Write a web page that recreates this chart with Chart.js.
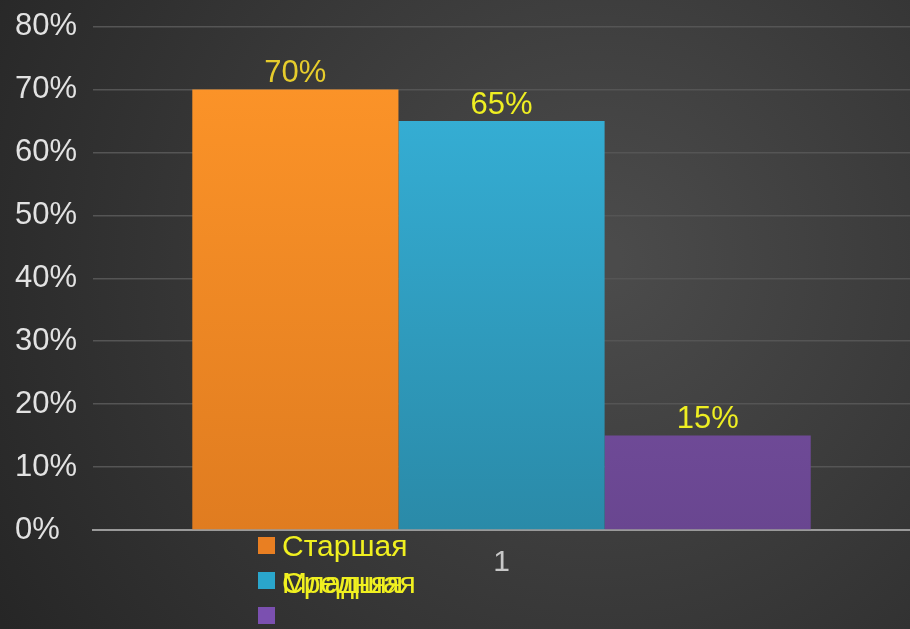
<!DOCTYPE html>
<html>
<head>
<meta charset="utf-8">
<script src="https://cdn.jsdelivr.net/npm/chart.js@4"></script>
<style>
  html, body { margin: 0; padding: 0; background: #2e2e2e; }
  canvas { display: block; }
</style>
</head>
<body>
<canvas id="myChart" width="910" height="629"></canvas>
<script>
const categories = ['1'];
const seriesNames = ['Старшая', 'Средняя', 'Младшая'];
const seriesValues = [[70], [65], [15]];
const yTickValues = [0, 10, 20, 30, 40, 50, 60, 70, 80];

const topColors = ['#ff9629', '#37b5dd', '#8459b2'];
const bottomColors = ['#e07c20', '#2a8aa8', '#694690'];
const legendColors = ['#e97f22', '#2aa6cc', '#7b50b0'];
const labelColors = ['#e6cc2c', '#eeee22', '#eeee22'];

const ctx = document.getElementById('myChart').getContext('2d');

// dark radial backdrop
const backdrop = {
    id: 'backdrop',
    beforeDraw(chart) {
        const c = chart.ctx;
        const g = c.createRadialGradient(600, 260, 20, 600, 260, 700);
        g.addColorStop(0, '#4b4b4b');
        g.addColorStop(1, '#262626');
        c.save();
        c.fillStyle = g;
        c.fillRect(0, 0, chart.width, chart.height);
        c.restore();
    }
};

// value labels above bars
const valueLabels = {
    id: 'valueLabels',
    afterDatasetsDraw(chart) {
        const c = chart.ctx;
        c.save();
        c.font = '31px "Liberation Sans", Arial, sans-serif';
        c.textAlign = 'center';
        c.textBaseline = 'middle';
        chart.data.datasets.forEach((ds, i) => {
            chart.getDatasetMeta(i).data.forEach((el, j) => {
                c.fillStyle = labelColors[i];
                c.fillText(ds.data[j] + '%', el.x, el.y - 16);
            });
        });
        c.restore();
    }
};

// legend as it appears in the picture (last two names overlap)
const oddLegend = {
    id: 'oddLegend',
    afterDraw(chart) {
        const c = chart.ctx;
        const rows = [546, 581, 616];
        const textRows = [548, 585, 585];
        c.save();
        c.font = '30px "Liberation Sans", Arial, sans-serif';
        c.textBaseline = 'middle';
        c.textAlign = 'left';
        seriesNames.forEach((name, i) => {
            c.fillStyle = legendColors[i];
            c.fillRect(258, rows[i] - 9, 17, 17);
            c.fillStyle = '#f0f020';
            c.fillText(name, 282, textRows[i]);
        });
        c.restore();
    }
};

const myChart = new Chart(ctx, {
    type: 'bar',
    data: {
        labels: categories,
        datasets: seriesNames.map((name, i) => ({
            label: name,
            data: seriesValues[i],
            backgroundColor: (context) => {
                const area = context.chart.chartArea;
                if (!area) return topColors[i];
                const g = context.chart.ctx.createLinearGradient(0, area.top, 0, area.bottom);
                g.addColorStop(0, topColors[i]);
                g.addColorStop(1, bottomColors[i]);
                return g;
            },
            borderWidth: 0,
            categoryPercentage: 0.757,
            barPercentage: 1
        }))
    },
    options: {
        responsive: false,
        animation: false,
        devicePixelRatio: 1,
        layout: {
            padding: { left: 15, right: 0, top: 5, bottom: 33 }
        },
        plugins: {
            legend: { display: false },
            tooltip: { enabled: false }
        },
        scales: {
            x: {
                grid: { display: false, drawTicks: false },
                border: { display: true, color: '#9a9a9a', width: 2 },
                ticks: {
                    color: '#c8c8c8',
                    padding: 15,
                    font: { size: 30, family: '"Liberation Sans", Arial, sans-serif' }
                }
            },
            y: {
                min: 0,
                max: 80,
                afterBuildTicks: (axis) => {
                    axis.ticks = yTickValues.map(v => ({ value: v }));
                },
                grid: { color: '#555555', lineWidth: 1.5, drawTicks: false },
                border: { display: false },
                ticks: {
                    color: '#e2e2e2',
                    padding: 8,
                    crossAlign: 'far',
                    font: { size: 31, family: '"Liberation Sans", Arial, sans-serif' },
                    callback: (v) => v + '%'
                }
            }
        }
    },
    plugins: [backdrop, valueLabels, oddLegend]
});
</script>
</body>
</html>
